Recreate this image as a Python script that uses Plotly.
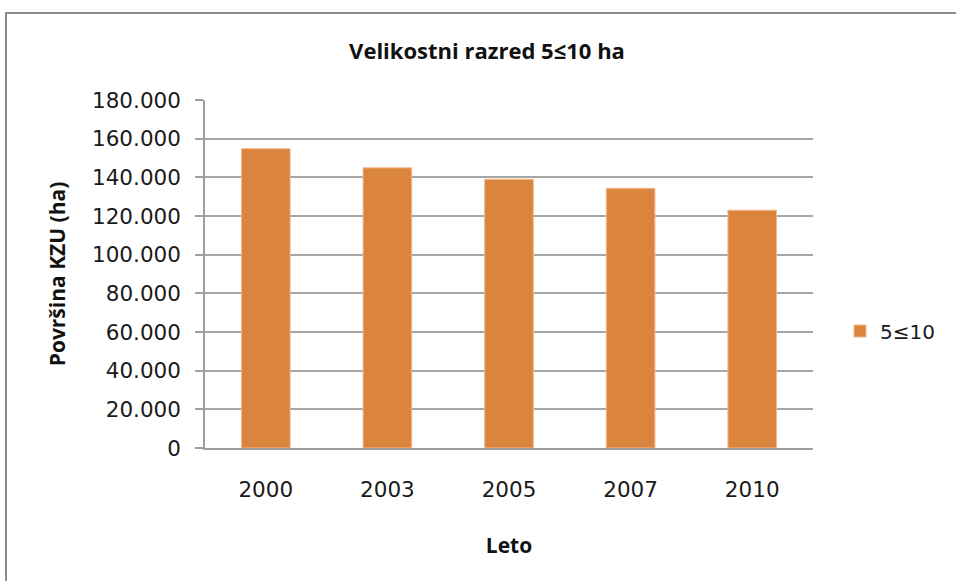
import plotly.graph_objects as go

years = ["2000", "2003", "2005", "2007", "2010"]
values = [154800, 144900, 139000, 134300, 123000]
series_name = "5≤10"
y_ticks = [0, 20000, 40000, 60000, 80000, 100000, 120000, 140000, 160000, 180000]

W, H = 956, 581
# desired plot area in window pixels: x 205..813, y 100..448
L, T = 205, 100
R = W - 813
B = H - 448
pw, ph = W - L - R, H - T - B

title_font = "Open Sans, Liberation Sans, sans-serif"
tick_font = "DejaVu Sans, sans-serif"
TS = 21.5

fig = go.Figure()
fig.add_trace(go.Bar(
    x=years, y=values, name=series_name,
    marker=dict(color="#DB843D", line=dict(color="#F2B88C", width=1)),
    showlegend=True,
))

def px_x(v):
    return (v - L) / pw

def px_y(v):
    return (H - B - v) / ph

fig.update_layout(
    width=W, height=H,
    margin=dict(l=L, r=R, t=T, b=B),
    paper_bgcolor="white", plot_bgcolor="white",
    separators=",.",
    font=dict(family=tick_font, size=TS, color="#1a1a1a"),
    bargap=0.6,
    title=dict(text="<b>Velikostni razred 5≤10 ha</b>", x=px_x(487), xref="paper", xanchor="center",
               y=(H - 51) / H, yanchor="middle",
               font=dict(size=22, family=title_font, color="#111111")),
    xaxis=dict(
        type="category", showgrid=False, showline=True, linecolor="#9E9E9E", linewidth=1.5,
        ticks="", ticklabelstandoff=21, tickfont=dict(size=TS, family=tick_font),
        title=dict(text="<b>Leto</b>", standoff=38, font=dict(size=21, family=title_font, color="#111111")),
    ),
    yaxis=dict(
        range=[0, 180000], tickvals=y_ticks, tickformat=",d",
        showgrid=True, gridcolor="#A6A6A6", gridwidth=1.5,
        showline=True, linecolor="#9E9E9E", linewidth=1.5,
        ticks="outside", ticklen=8, tickcolor="#9E9E9E", tickwidth=1.5,
        ticklabelstandoff=10,
        tickfont=dict(size=TS, family=tick_font), zeroline=False,
        title=dict(text="<b>Površina KZU (ha)</b>", standoff=21,
                   font=dict(size=21, family=title_font, color="#111111")),
    ),
    legend=dict(x=px_x(840), xanchor="left", y=px_y(331), yanchor="middle",
                font=dict(size=20, family=tick_font), bgcolor="rgba(0,0,0,0)"),
)

fig.add_shape(type="rect", xref="paper", yref="paper",
              x0=px_x(6), x1=px_x(980), y0=px_y(H + 30), y1=px_y(13),
              line=dict(color="#8C8C8C", width=2), fillcolor="rgba(0,0,0,0)", layer="below")

fig.write_html("out.html", config={"displayModeBar": False},
               post_script="document.body.style.margin='0';")
